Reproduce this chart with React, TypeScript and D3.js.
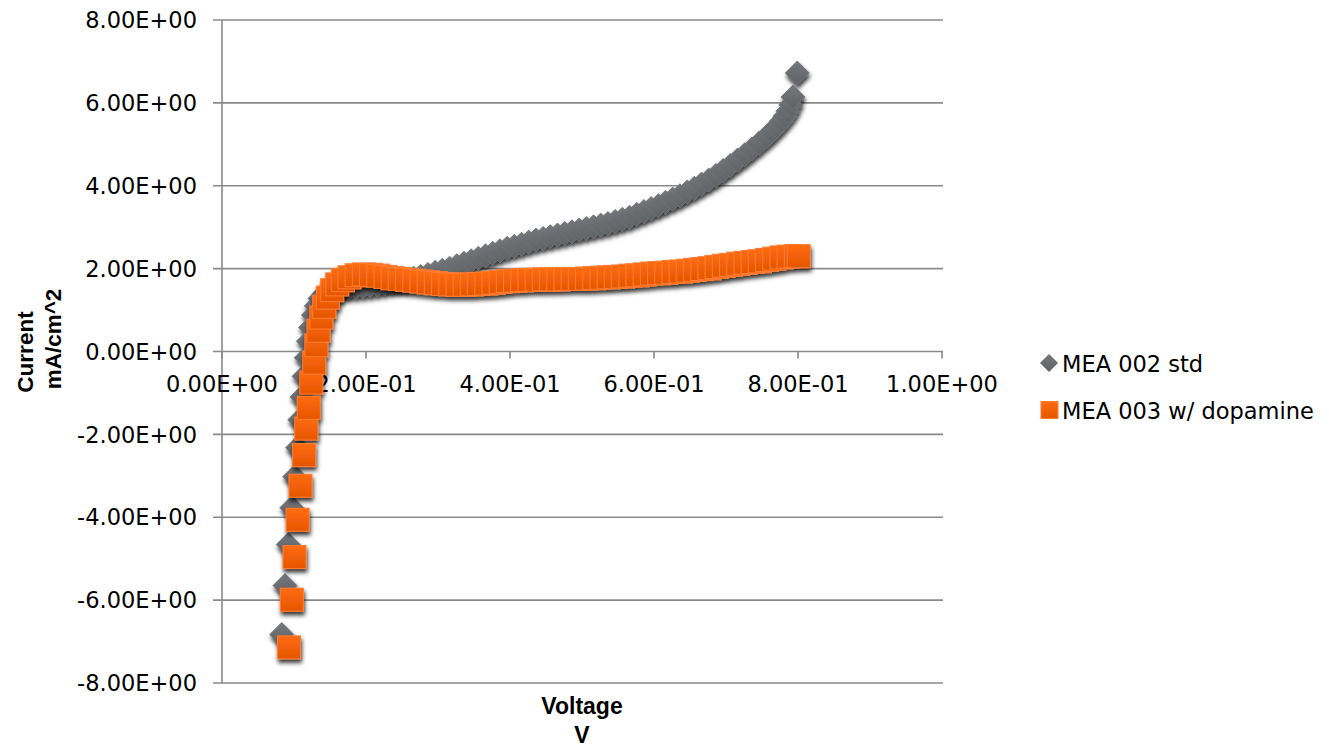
import React from "react";
import * as d3 from "d3";

// ---- data (voltage V, current mA/cm^2) ----
const stdVoltage = [
  0.083, 0.0875, 0.092, 0.097, 0.101, 0.105, 0.108, 0.111, 0.114, 0.117, 0.12, 0.123, 0.127, 0.131, 0.136,
  0.142, 0.149, 0.157, 0.166, 0.176, 0.186, 0.196, 0.206, 0.216, 0.226, 0.236, 0.246, 0.256, 0.266, 0.276,
  0.286, 0.296, 0.306, 0.316, 0.326, 0.336, 0.346, 0.356, 0.366, 0.376, 0.386, 0.396, 0.406, 0.416, 0.426,
  0.436, 0.446, 0.456, 0.466, 0.476, 0.486, 0.496, 0.506, 0.516, 0.526, 0.536, 0.546, 0.556, 0.566, 0.576,
  0.586, 0.596, 0.606, 0.616, 0.626, 0.636, 0.646, 0.656, 0.666, 0.676, 0.686, 0.696, 0.706, 0.716, 0.726,
  0.736, 0.746, 0.756, 0.764, 0.771, 0.777, 0.782, 0.786, 0.79, 0.793, 0.799,
];
const stdCurrent = [
  -6.83, -5.65, -4.66, -3.77, -3.02, -2.32, -1.65, -1.1, -0.6, -0.15, 0.25, 0.58, 0.88, 1.1, 1.28,
  1.4, 1.47, 1.51, 1.53, 1.54, 1.55, 1.57, 1.59, 1.61, 1.64, 1.67, 1.7, 1.73, 1.77, 1.81,
  1.86, 1.91, 1.96, 2.01, 2.07, 2.13, 2.19, 2.25, 2.31, 2.37, 2.43, 2.49, 2.54, 2.59, 2.64,
  2.69, 2.73, 2.77, 2.81, 2.85, 2.89, 2.93, 2.97, 3.01, 3.05, 3.09, 3.14, 3.19, 3.24, 3.31,
  3.38, 3.45, 3.52, 3.6, 3.68, 3.76, 3.85, 3.94, 4.04, 4.14, 4.25, 4.37, 4.49, 4.62, 4.75,
  4.89, 5.03, 5.18, 5.31, 5.44, 5.56, 5.68, 5.8, 5.95, 6.14, 6.72,
];

const dopVoltage = [
  0.093, 0.097, 0.1007, 0.105, 0.109, 0.114, 0.117, 0.1205, 0.124, 0.128, 0.131, 0.134, 0.138, 0.142, 0.147,
  0.153, 0.16, 0.168, 0.177, 0.187, 0.197, 0.207, 0.217, 0.227, 0.237, 0.247, 0.257, 0.267, 0.277, 0.287,
  0.297, 0.307, 0.317, 0.327, 0.337, 0.347, 0.357, 0.367, 0.377, 0.387, 0.397, 0.407, 0.417, 0.427, 0.437,
  0.447, 0.457, 0.467, 0.477, 0.487, 0.497, 0.507, 0.517, 0.527, 0.537, 0.547, 0.557, 0.567, 0.577, 0.587,
  0.597, 0.607, 0.617, 0.627, 0.637, 0.647, 0.657, 0.667, 0.677, 0.687, 0.697, 0.707, 0.717, 0.727, 0.737,
  0.747, 0.757, 0.767, 0.777, 0.787, 0.797, 0.801,
];
const dopCurrent = [
  -7.14, -5.99, -4.96, -4.06, -3.24, -2.5, -1.86, -1.36, -0.75, -0.27, 0.15, 0.5, 0.82, 1.08, 1.3,
  1.48, 1.62, 1.72, 1.79, 1.84, 1.86, 1.85, 1.83, 1.8, 1.77, 1.75, 1.73, 1.71, 1.69, 1.67,
  1.65, 1.63, 1.62, 1.61, 1.61, 1.62, 1.63, 1.64, 1.66, 1.68, 1.7, 1.71, 1.72, 1.73, 1.73,
  1.74, 1.74, 1.74, 1.75, 1.75, 1.75, 1.76, 1.77, 1.78, 1.79, 1.8, 1.81, 1.83, 1.84, 1.86,
  1.88, 1.89, 1.9, 1.92, 1.93, 1.95, 1.97, 1.99, 2.01, 2.04, 2.07, 2.09, 2.12, 2.14, 2.16,
  2.18, 2.21, 2.24, 2.27, 2.29, 2.3, 2.3,
];

const seriesNames = ["MEA 002 std", "MEA 003 w/ dopamine"];
const xTicks = [0, 0.2, 0.4, 0.6, 0.8, 1.0];
const xTickLabels = ["0.00E+00", "2.00E-01", "4.00E-01", "6.00E-01", "8.00E-01", "1.00E+00"];
const yTicks = [8, 6, 4, 2, 0, -2, -4, -6, -8];
const yTickLabels = ["8.00E+00", "6.00E+00", "4.00E+00", "2.00E+00", "0.00E+00", "-2.00E+00", "-4.00E+00", "-6.00E+00", "-8.00E+00"];

const W = 1329;
const H = 747;
const FONT = "'DejaVu Sans', sans-serif";
const TITLE_FONT = "'Liberation Sans', Arial, sans-serif";

export default function App() {
  const x = d3.scaleLinear().domain([0, 1]).range([222, 942]);
  const y = d3.scaleLinear().domain([-8, 8]).range([683, 20]);

  const std = stdVoltage.map((v, i) => [v, stdCurrent[i]]);
  const dop = dopVoltage.map((v, i) => [v, dopCurrent[i]]);

  const diamond = (cx: number, cy: number, r: number) =>
    `M${cx},${cy - r}L${cx + r},${cy}L${cx},${cy + r}L${cx - r},${cy}Z`;

  const R = 12; // diamond half-diagonal
  const S = 23; // square side

  return (
    <svg width={W} height={H} style={{ position: "absolute", left: 0, top: 0, background: "#fff" }}>
      <defs>
        <linearGradient id="orangeGrad" x1="0" y1="0" x2="0" y2="1">
          <stop offset="0" stopColor="#ff6b12" />
          <stop offset="1" stopColor="#e55600" />
        </linearGradient>
        <linearGradient id="grayGrad" x1="0" y1="0" x2="0" y2="1">
          <stop offset="0" stopColor="#75777b" />
          <stop offset="1" stopColor="#606265" />
        </linearGradient>
        <filter id="shadow" x="-20%" y="-20%" width="140%" height="140%">
          <feDropShadow dx="1" dy="3.5" stdDeviation="2" floodColor="#000" floodOpacity="0.8" />
        </filter>
      </defs>

      {/* gridlines */}
      {yTicks.map((t) => (
        <line key={"g" + t} x1={213} x2={943} y1={y(t)} y2={y(t)} stroke="#8a8a8a" strokeWidth={1.6} />
      ))}
      {/* y axis */}
      <line x1={x(0)} x2={x(0)} y1={y(8)} y2={y(-8)} stroke="#8a8a8a" strokeWidth={1.6} />
      {/* x axis ticks */}
      {xTicks.map((t) => (
        <line key={"xt" + t} x1={x(t)} x2={x(t)} y1={y(0)} y2={y(0) + 7} stroke="#8a8a8a" strokeWidth={1.6} />
      ))}

      {/* y tick labels */}
      {yTicks.map((t, i) => (
        <text key={"yl" + t} x={197} y={y(t) + 8.2} textAnchor="end" fontFamily={FONT} fontSize={22.5} fill="#000">
          {yTickLabels[i]}
        </text>
      ))}
      {/* x tick labels */}
      {xTicks.map((t, i) => (
        <text key={"xl" + t} x={x(t)} y={392} textAnchor="middle" fontFamily={FONT} fontSize={22.5} fill="#000">
          {xTickLabels[i]}
        </text>
      ))}

      {/* series: std (gray diamonds) */}
      <g filter="url(#shadow)">
        {std.map(([v, c], i) => (
          <path key={"s" + i} d={diamond(x(v), y(c), R)} fill="url(#grayGrad)" stroke="#6e7074" strokeWidth={0.8} />
        ))}
      </g>
      {/* series: dopamine (orange squares) */}
      <g filter="url(#shadow)">
        {dop.map(([v, c], i) => (
          <rect
            key={"d" + i}
            x={x(v) - S / 2}
            y={y(c) - S / 2}
            width={S}
            height={S}
            fill="url(#orangeGrad)"
            stroke="#ff7d33"
            strokeWidth={1}
          />
        ))}
      </g>

      {/* axis titles */}
      <text x={582} y={714} textAnchor="middle" fontFamily={TITLE_FONT} fontSize={23} fontWeight="bold" fill="#000">
        Voltage
      </text>
      <text x={582} y={743} textAnchor="middle" fontFamily={TITLE_FONT} fontSize={23} fontWeight="bold" fill="#000">
        V
      </text>
      <text transform="translate(33,352) rotate(-90)" textAnchor="middle" fontFamily={TITLE_FONT} fontSize={22.5} fontWeight="bold" fill="#000">
        Current
      </text>
      <text transform="translate(61,339) rotate(-90)" textAnchor="middle" fontFamily={TITLE_FONT} fontSize={22.5} fontWeight="bold" fill="#000">
        mA/cm^2
      </text>

      {/* legend */}
      <path d={diamond(1049, 363, 9)} fill="url(#grayGrad)" />
      <text x={1062} y={372} fontFamily={FONT} fontSize={22.5} fill="#000">
        {seriesNames[0]}
      </text>
      <rect x={1041} y={401.5} width={17} height={17} fill="url(#orangeGrad)" stroke="#ff7d33" strokeWidth={1} />
      <text x={1062} y={419} fontFamily={FONT} fontSize={22.5} fill="#000">
        {seriesNames[1]}
      </text>
    </svg>
  );
}
